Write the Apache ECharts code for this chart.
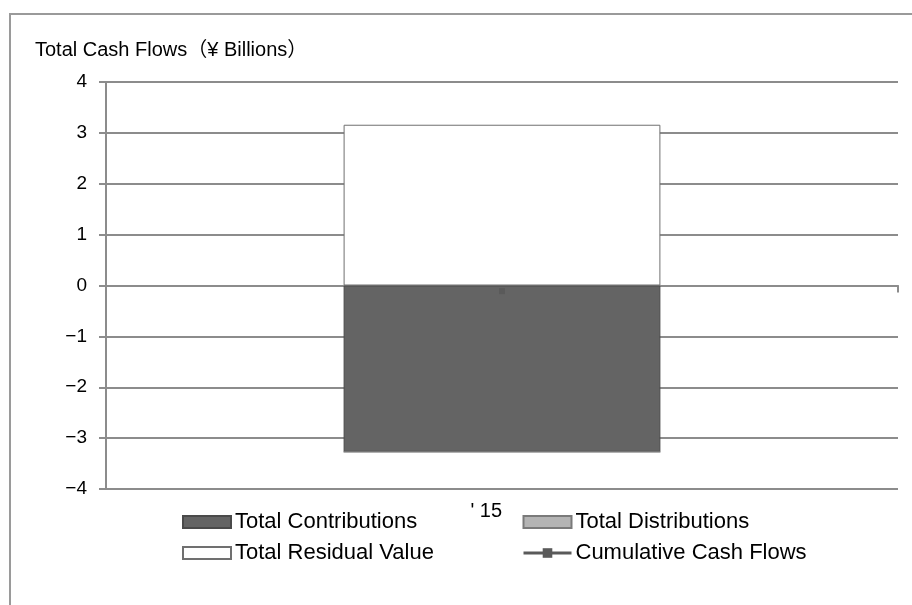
<!DOCTYPE html>
<html>
<head>
<meta charset="utf-8">
<script src="https://cdn.jsdelivr.net/npm/echarts@6/dist/echarts.min.js"></script>
<style>
  html, body { margin: 0; padding: 0; background: #fff; }
  #chart { width: 912px; height: 605px; }
</style>
</head>
<body>
<div id="chart"></div>
<script>
// Cash flow summary for the 2015 vintage (¥ billions)
const categories = ["' 15"];
const totalContributions = [-3.27];
const totalDistributions = [0];
const totalResidualValue = [3.16];
const cumulativeCashFlows = [-0.11];
const yTicks = [-4, -3, -2, -1, 0, 1, 2, 3, 4];

const FONT = "'Liberation Sans', Arial, 'Noto Sans CJK JP', sans-serif";
const GRID_GRAY = '#8c8c8c';

const chart = echarts.init(document.getElementById('chart'), null, { renderer: 'canvas' });

const legendCommon = {
  top: 506,
  orient: 'vertical',
  itemGap: 9,
  itemWidth: 48,
  itemHeight: 12,
  textStyle: { fontFamily: FONT, fontSize: 22, color: '#000', padding: [0, 0, 0, -1] }
};

chart.setOption({
  animation: false,
  backgroundColor: '#fff',
  textStyle: { fontFamily: FONT, color: '#000' },
  title: {
    text: 'Total Cash Flows（¥ Billions）',
    left: 30,
    top: 35,
    textStyle: { fontFamily: FONT, fontSize: 20, fontWeight: 'normal', color: '#000' }
  },
  graphic: [{
    type: 'rect',
    silent: true,
    shape: { x: 10, y: 14, width: 940, height: 640 },
    style: { fill: 'none', stroke: '#9a9a9a', lineWidth: 2 }
  }],
  grid: { left: 106, right: 14, top: 82, bottom: 116 },
  legend: [Object.assign({
    left: 177,
    data: [
      { name: 'Total Contributions', icon: 'rect' },
      { name: 'Total Residual Value', icon: 'rect' }
    ]
  }, legendCommon), Object.assign({
    left: 517,
    data: [
      { name: 'Total Distributions', icon: 'rect' },
      { name: 'Cumulative Cash Flows', lineStyle: { width: 3 } }
    ]
  }, legendCommon)],
  xAxis: [{
    type: 'category',
    data: categories,
    position: 'bottom',
    axisLine: { show: false, onZero: false },
    axisTick: { show: false },
    axisLabel: { margin: 12, fontSize: 20, fontFamily: FONT, color: '#000', align: 'right' }
  }, {
    // zero baseline with its category boundary ticks
    type: 'category',
    data: categories,
    position: 'top',
    axisLine: { show: true, onZero: true, lineStyle: { color: GRID_GRAY, width: 2 } },
    axisTick: { show: true, inside: true, length: 7, lineStyle: { color: GRID_GRAY, width: 2 } },
    axisLabel: { show: false }
  }],
  yAxis: {
    type: 'value',
    min: yTicks[0],
    max: yTicks[yTicks.length - 1],
    interval: 1,
    axisLine: { show: true, lineStyle: { color: GRID_GRAY, width: 2 } },
    axisTick: { show: true, length: 7, lineStyle: { color: GRID_GRAY, width: 2 } },
    axisLabel: {
      margin: 19,
      fontSize: 19,
      fontFamily: FONT,
      color: '#000',
      formatter: v => (v < 0 ? '\u2212' + Math.abs(v) : String(v))
    },
    splitLine: { show: true, lineStyle: { color: GRID_GRAY, width: 2 } }
  },
  series: [{
    name: 'Total Contributions',
    type: 'bar',
    stack: 'cash',
    barWidth: '40%',
    data: totalContributions,
    itemStyle: { color: '#646464', borderColor: '#4a4a4a', borderWidth: 1 }
  }, {
    name: 'Total Distributions',
    type: 'bar',
    stack: 'cash',
    data: totalDistributions,
    itemStyle: { color: '#b4b4b4', borderColor: '#7a7a7a', borderWidth: 1 }
  }, {
    name: 'Total Residual Value',
    type: 'bar',
    stack: 'cash',
    data: totalResidualValue,
    itemStyle: { color: '#ffffff', borderColor: '#707070', borderWidth: 1 }
  }, {
    name: 'Cumulative Cash Flows',
    type: 'line',
    data: cumulativeCashFlows,
    symbol: 'rect',
    symbolSize: 6,
    z: 5,
    lineStyle: { color: '#5a5a5a', width: 3 },
    itemStyle: { color: '#5a5a5a' }
  }]
});
</script>
</body>
</html>
